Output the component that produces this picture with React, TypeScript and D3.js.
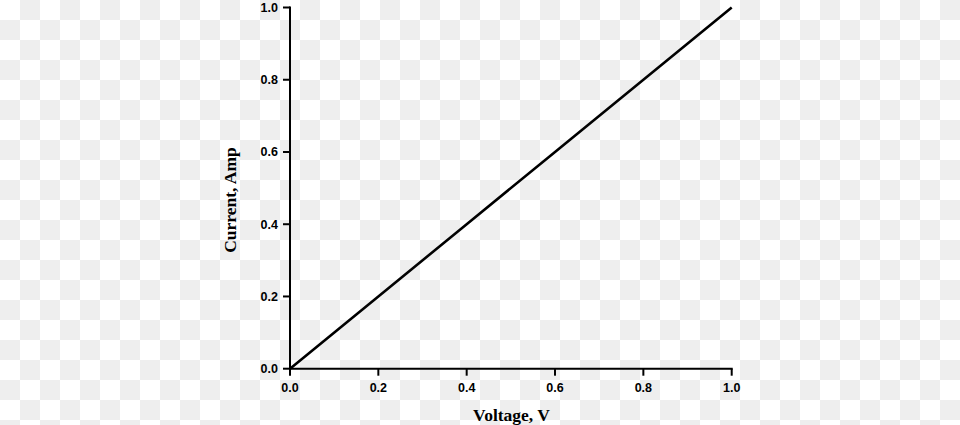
import React from "react";
import * as d3 from "d3";

const voltage = [0, 0.2, 0.4, 0.6, 0.8, 1.0];
const current = [0, 0.2, 0.4, 0.6, 0.8, 1.0];
const xTicks = [0, 0.2, 0.4, 0.6, 0.8, 1.0];
const yTicks = [0, 0.2, 0.4, 0.6, 0.8, 1.0];
const xTitle = "Voltage, V";
const yTitle = "Current, Amp";

const W = 960;
const H = 425;

export default function App() {
  const x = d3.scaleLinear().domain([0, 1]).range([290, 731.7]);
  const y = d3.scaleLinear().domain([0, 1]).range([368.7, 7.5]);
  const pts = voltage.map((v, i) => [v, current[i]] as [number, number]);
  const line = d3
    .line<[number, number]>()
    .x((d) => x(d[0]))
    .y((d) => y(d[1]));

  const cells: JSX.Element[] = [];
  for (let r = 0; r < Math.ceil(H / 20); r++) {
    for (let c = 0; c < Math.ceil(W / 20); c++) {
      if ((r + c) % 2 === 1) {
        cells.push(<rect key={`${r}-${c}`} x={c * 20} y={r * 20} width={20} height={20} fill="#eeeeee" />);
      }
    }
  }

  const tickFont = { fontFamily: "Liberation Sans, Arial, sans-serif", fontWeight: 700, fontSize: 12.5 };
  const titleFont = { fontFamily: "Liberation Serif, Times New Roman, serif", fontWeight: 700, fontSize: 17.5 };

  return (
    <svg width={W} height={H} style={{ position: "absolute", left: 0, top: 0, display: "block" }}>
      <rect x={0} y={0} width={W} height={H} fill="#ffffff" />
      {cells}
      <line x1={x(0)} x2={x(0)} y1={y(1)} y2={y(0)} stroke="#000" strokeWidth={2} strokeLinecap="square" />
      <line x1={x(0)} x2={x(1)} y1={y(0)} y2={y(0)} stroke="#000" strokeWidth={2} strokeLinecap="square" />
      {yTicks.map((t) => (
        <g key={`y${t}`}>
          <line x1={x(0) - 7} x2={x(0)} y1={y(t)} y2={y(t)} stroke="#000" strokeWidth={2} />
          <text x={x(0) - 12} y={y(t)} dy="0.36em" textAnchor="end" style={tickFont}>
            {t.toFixed(1)}
          </text>
        </g>
      ))}
      {xTicks.map((t) => (
        <g key={`x${t}`}>
          <line x1={x(t)} x2={x(t)} y1={y(0)} y2={y(0) + 7} stroke="#000" strokeWidth={2} />
          <text x={x(t)} y={392} textAnchor="middle" style={tickFont}>
            {t.toFixed(1)}
          </text>
        </g>
      ))}
      <path d={line(pts) || ""} fill="none" stroke="#000" strokeWidth={2.6} />
      <text x={511.5} y={421} textAnchor="middle" style={titleFont}>
        {xTitle}
      </text>
      <text transform={`translate(236,200) rotate(-90)`} textAnchor="middle" style={titleFont}>
        {yTitle}
      </text>
    </svg>
  );
}
